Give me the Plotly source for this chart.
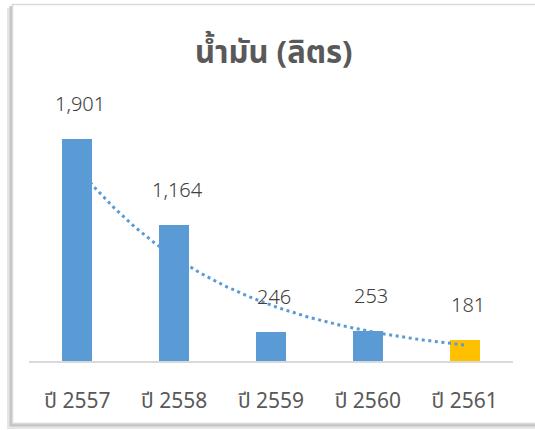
import numpy as np
import plotly.graph_objects as go

# Oil usage per year (litres)
years = ["ปี 2557", "ปี 2558", "ปี 2559", "ปี 2560", "ปี 2561"]
litres = [1901, 1164, 246, 253, 181]
bar_colors = ["#5B9BD5", "#5B9BD5", "#5B9BD5", "#5B9BD5", "#FFC000"]
title_text = "น้ำมัน (ลิตร)"

W, H = 535, 430
FONT = "Noto Sans Thai, Noto Sans, Tahoma, sans-serif"

xs = list(range(len(years)))

# exponential trendline fitted to the yearly values
k, b = np.polyfit(np.array(xs, float) + 1, np.log(litres), 1)
tx = np.linspace(0, len(years) - 1, 300)
ty = np.exp(b + k * (tx + 1))

fig = go.Figure()
fig.add_trace(go.Bar(
    x=xs, y=litres, width=0.31,
    marker=dict(color=bar_colors, line=dict(width=0)),
    hoverinfo="skip",
))
fig.add_trace(go.Scatter(
    x=tx, y=ty, mode="lines",
    line=dict(color="#5B9BD5", width=3, dash="3px,3.6px"),
    hoverinfo="skip",
))

# value labels above bars
for xi, v in zip(xs, litres):
    fig.add_annotation(
        x=xi, y=v, text=f"{v:,}", showarrow=False,
        xanchor="center", yanchor="middle", yshift=34, xshift=3,
        font=dict(family=FONT, size=20, color="#404040", weight=300),
    )

# title
fig.add_annotation(
    xref="paper", yref="paper", x=274 / W, y=1 - 54 / H,
    text=f"<b>{title_text}</b>", showarrow=False,
    xanchor="center", yanchor="middle",
    font=dict(family=FONT, size=31, color="#595959"),
)

def px(x):
    return x / W

def py(y):
    return 1 - y / H

shapes = [
    # soft drop shadow
    dict(type="rect", xref="paper", yref="paper", layer="below",
         x0=px(7), x1=px(560), y0=py(429), y1=py(8),
         fillcolor="#E6E6E6", line=dict(width=0)),
    dict(type="rect", xref="paper", yref="paper", layer="below",
         x0=px(9.5), x1=px(560), y0=py(426.5), y1=py(6),
         fillcolor="#C4C4C4", line=dict(width=0)),
    # chart panel
    dict(type="rect", xref="paper", yref="paper", layer="below",
         x0=px(12.5), x1=px(560), y0=py(423.5), y1=py(4.5),
         fillcolor="white", line=dict(color="#D9D9D9", width=1.5)),
]

fig.update_layout(
    width=W, height=H,
    margin=dict(l=0, r=0, t=0, b=0),
    paper_bgcolor="white",
    plot_bgcolor="rgba(0,0,0,0)",
    showlegend=False,
    shapes=shapes,
    bargap=0,
    xaxis=dict(
        domain=[29 / W, 513 / W], range=[-0.5, len(years) - 0.5],
        tickmode="array", tickvals=xs, ticktext=years,
        showgrid=False, zeroline=False,
        showline=True, linecolor="#D9D9D9", linewidth=1.5,
        ticks="", ticklabelstandoff=20,
        tickfont=dict(family=FONT, size=21, color="#595959"),
        automargin=False, fixedrange=True,
    ),
    yaxis=dict(
        domain=[1 - 361 / H, 1 - 100 / H], range=[0, 2235],
        visible=False, showgrid=False, zeroline=False,
        automargin=False, fixedrange=True,
    ),
)

fig.write_html("out.html")
